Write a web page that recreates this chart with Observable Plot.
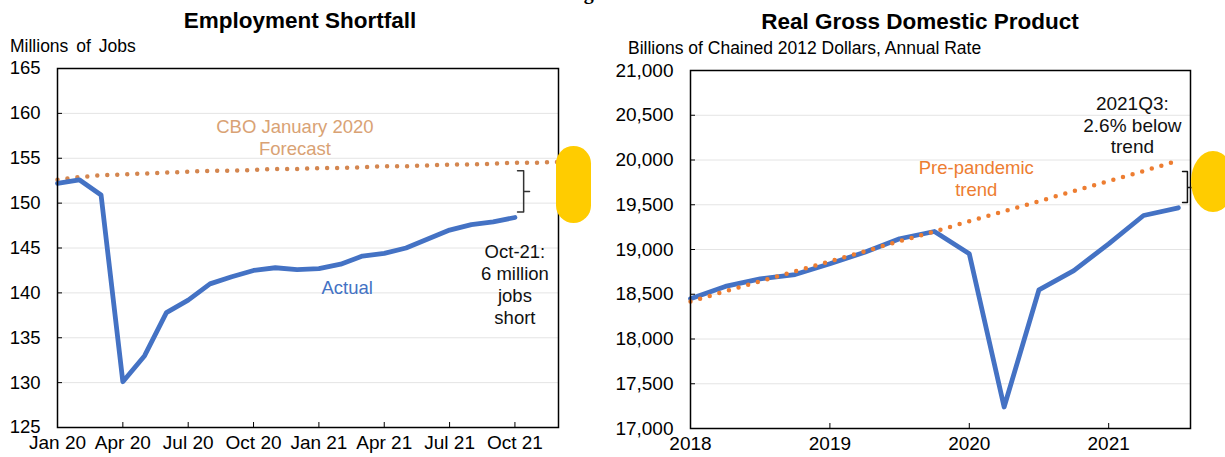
<!DOCTYPE html>
<html><head><meta charset="utf-8">
<script src="https://cdn.jsdelivr.net/npm/d3@7"></script>
<script src="https://cdn.jsdelivr.net/npm/@observablehq/plot@0.6"></script>
<style>
html,body{margin:0;padding:0;background:#fff;width:1225px;height:457px;overflow:hidden;font-family:"Liberation Sans",Arial,sans-serif;}
#wrap{position:relative;width:1225px;height:457px;overflow:hidden;}
.abs{position:absolute;white-space:nowrap;line-height:1;}
.title{font-weight:bold;font-size:22.5px;color:#000;transform:translateX(-50%);}
.sub{font-size:17.5px;color:#000;}
.pill{position:absolute;background:#FFCC00;border-radius:999px;}
.chart{position:absolute;top:0;}
</style></head><body><div id="wrap">
<div class="abs" style="left:566px;top:-18px;font-family:'Liberation Serif',serif;font-weight:bold;font-size:20px;">Figure 1</div>
<div class="abs title" style="left:300px;top:10px;">Employment Shortfall</div>
<div class="abs sub" style="left:10px;top:38px;word-spacing:3px;">Millions of Jobs</div>
<div class="abs title" style="left:920px;top:11px;">Real Gross Domestic Product</div>
<div class="abs sub" style="left:628px;top:40px;">Billions of Chained 2012 Dollars, Annual Rate</div>
<div id="left" class="chart" style="left:0;"></div>
<div id="right" class="chart" style="left:600px;"></div>
<div class="pill" style="left:556px;top:146px;width:35px;height:77px;"></div>
<div class="pill" style="left:1191px;top:151px;width:44px;height:61px;border-radius:50%;"></div>
</div>
<script>
// ---------- Employment (monthly, millions of jobs) ----------
const months = ["Jan 20","Feb 20","Mar 20","Apr 20","May 20","Jun 20","Jul 20","Aug 20","Sep 20","Oct 20","Nov 20","Dec 20",
                "Jan 21","Feb 21","Mar 21","Apr 21","May 21","Jun 21","Jul 21","Aug 21","Sep 21","Oct 21","Nov 21","Dec 21"];
const monthTickLabels = ["Jan 20","Apr 20","Jul 20","Oct 20","Jan 21","Apr 21","Jul 21","Oct 21"];
const employment = [152.2,152.6,150.9,130.1,133.0,137.8,139.2,141.0,141.8,142.5,142.8,142.6,
                    142.7,143.2,144.1,144.4,145.0,146.0,147.0,147.6,147.9,148.4];
const cboForecast = [152.6,152.9,153.1,153.2,153.3,153.4,153.5,153.6,153.6,153.7,153.8,153.8,
                     153.9,153.9,154.0,154.1,154.1,154.2,154.3,154.3,154.4,154.5,154.5,154.6];
const jobsTicks = [125,130,135,140,145,150,155,160,165];

// ---------- Real GDP (quarterly, billions of chained 2012 $) ----------
const quarters = ["2018Q1","2018Q2","2018Q3","2018Q4","2019Q1","2019Q2","2019Q3","2019Q4",
                  "2020Q1","2020Q2","2020Q3","2020Q4","2021Q1","2021Q2","2021Q3"];
const gdp = [18450,18587,18672,18720,18840,18970,19120,19201,18952,17240,18550,18765,19063,19380,19466];
const prePandemicTrend = [18420,18532,18644,18756,18868,18980,19092,19200,19316,19428,19540,19652,19764,19876,19993];
const yearTickLabels = ["2018","2019","2020","2021"];
const gdpTicks = [17000,17500,18000,18500,19000,19500,20000,20500,21000];

const font = "'Liberation Sans', Arial, sans-serif";
const blue = "#4472C4";

const qToYear = q => +q.slice(0,4) + (+q.slice(5) - 1) / 4;
const empData = employment.map((v, i) => ({i, v, m: months[i]}));
const cboData = cboForecast.map((v, i) => ({i, v, m: months[i]}));
const gdpData = gdp.map((v, k) => ({t: qToYear(quarters[k]), v}));
const trendData = prePandemicTrend.map((v, k) => ({t: qToYear(quarters[k]), v}));

function bracket(x, x0, x1, top, mid, bottom) {
  return [{x: x0, y: top}, {x, y: top}, {x, y: mid}, {x: x1, y: mid}, {x, y: mid}, {x, y: bottom}, {x: x0, y: bottom}];
}

const leftPlot = Plot.plot({
  width: 600, height: 457,
  marginLeft: 57, marginRight: 42, marginTop: 68, marginBottom: 30,
  style: {fontFamily: font, fontSize: "18px", color: "#000", background: "transparent", overflow: "visible"},
  x: {domain: [0, 23], label: null},
  y: {domain: [125, 165], label: null},
  marks: [
    Plot.gridY(jobsTicks, {stroke: "#e4e4e4", strokeOpacity: 1}),
    Plot.line(cboData, {x: "i", y: "v", stroke: "#D4864F", strokeWidth: 4.5, strokeDasharray: "0 10", strokeLinecap: "round"}),
    Plot.line(empData, {x: "i", y: "v", stroke: blue, strokeWidth: 4.8, strokeLinejoin: "round"}),
    Plot.axisY({ticks: jobsTicks, tickSize: -5, tickPadding: 22, label: null, fontSize: 18.5}),
    Plot.axisX({ticks: monthTickLabels.map(l => months.indexOf(l)), tickFormat: i => months[i], tickSize: -5, tickPadding: 13, label: null, fontSize: 19}),
    Plot.frame({stroke: "#000", strokeWidth: 1.5}),
    Plot.text(["CBO January 2020\nForecast"], {x: 10.9, y: 157.4, fill: "#D9A274", fontSize: 18.5, lineHeight: 1.2, lineAnchor: "middle"}),
    Plot.text(["Actual"], {x: 13.3, y: 140.5, fill: blue, fontSize: 18.5, lineAnchor: "middle"}),
    Plot.text(["Oct-21:\n6 million\njobs\nshort"], {x: 21.0, y: 141.0, fill: "#111", fontSize: 18.5, lineHeight: 1.2, lineAnchor: "middle"}),
    Plot.line(bracket(21.4, 21.12, 21.67, 153.6, 151.3, 149.0), {x: "x", y: "y", stroke: "#333", strokeWidth: 1.5})
  ]
});
document.getElementById("left").appendChild(leftPlot);

const rightPlot = Plot.plot({
  width: 625, height: 457,
  marginLeft: 90, marginRight: 35, marginTop: 70, marginBottom: 29,
  style: {fontFamily: font, fontSize: "18px", color: "#000", background: "transparent", overflow: "visible"},
  x: {domain: [2018, 2021.587], label: null},
  y: {domain: [17000, 21000], label: null},
  marks: [
    Plot.gridY(gdpTicks, {stroke: "#e4e4e4", strokeOpacity: 1}),
    Plot.line(gdpData, {x: "t", y: "v", stroke: blue, strokeWidth: 4.8, strokeLinejoin: "round"}),
    Plot.line(trendData, {x: "t", y: "v", stroke: "#ED7D31", strokeWidth: 4.5, strokeDasharray: "0 10", strokeLinecap: "round"}),
    Plot.axisY({ticks: gdpTicks, tickFormat: d3.format(","), tickSize: -5, tickPadding: 22, label: null, fontSize: 19}),
    Plot.axisX({ticks: yearTickLabels.map(Number), tickFormat: d => String(d), tickSize: -5, tickPadding: 13, label: null, fontSize: 19}),
    Plot.frame({stroke: "#000", strokeWidth: 1.5}),
    Plot.text(["Pre-pandemic\ntrend"], {x: 2020.05, y: 19799, fill: "#ED7D31", fontSize: 18.5, lineHeight: 1.17, lineAnchor: "middle"}),
    Plot.text(["2021Q3:\n2.6% below\ntrend"], {x: 2021.17, y: 20395, fill: "#111", fontSize: 19, lineHeight: 1.13, lineAnchor: "middle"}),
    Plot.line(bracket(2021.565, 2021.53, 2021.605, 19871, 19693, 19525), {x: "x", y: "y", stroke: "#111", strokeWidth: 1.5})
  ]
});
document.getElementById("right").appendChild(rightPlot);
</script>
</body></html>
